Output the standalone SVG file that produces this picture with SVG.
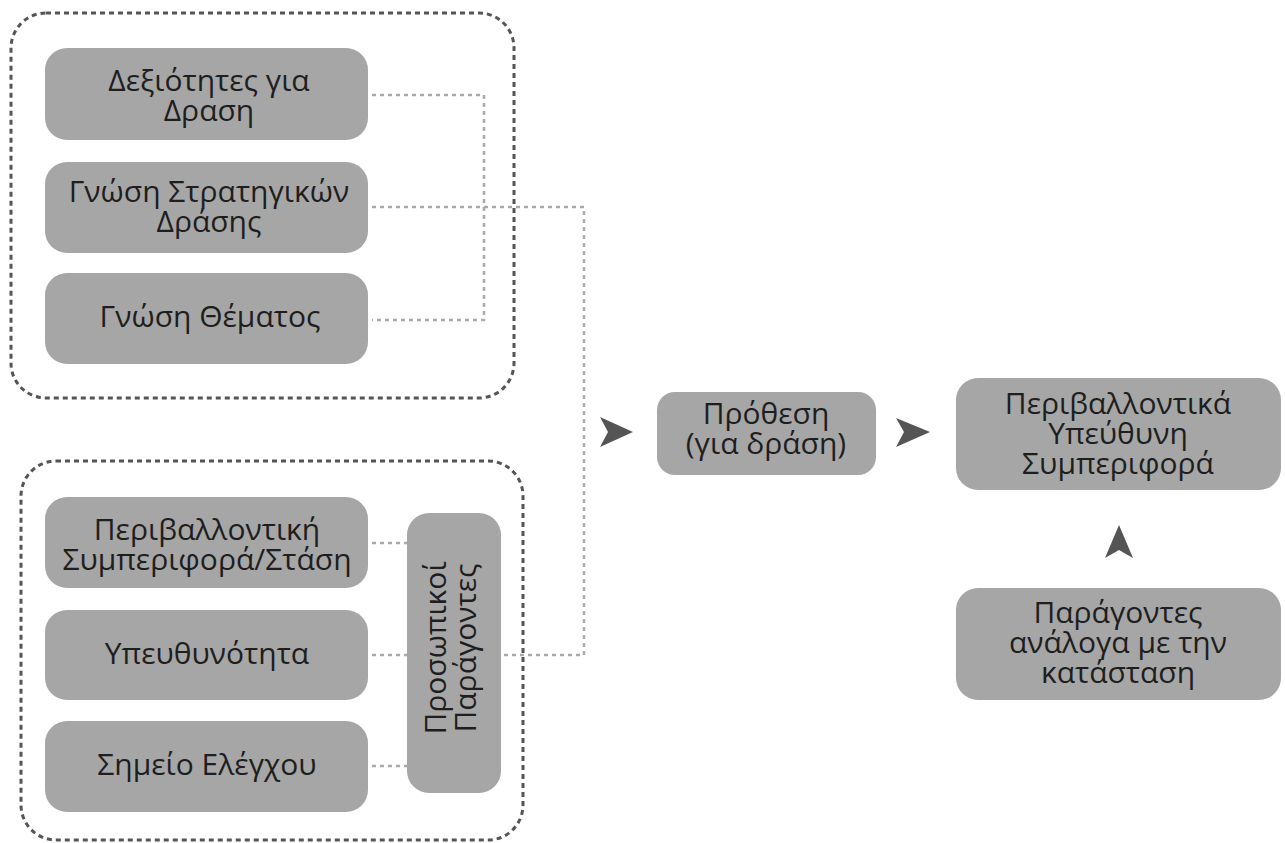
<svg xmlns="http://www.w3.org/2000/svg" width="1285" height="843" viewBox="0 0 1285 843">
<style>
.group{fill:none;stroke:#555;stroke-width:3;stroke-dasharray:5 4}
.box{fill:#a6a6a6}
.t{font-family:"Open Sans","Noto Sans","DejaVu Sans",sans-serif;font-size:30px;fill:#1e1e1e;text-anchor:middle}
.link{fill:none;stroke:#aaa;stroke-width:2.5;stroke-dasharray:4 4}
.arrow{fill:#555}
</style>
<rect width="1285" height="843" fill="#fff"/>
<g id="group-top"><rect class="group" x="11" y="13" width="503" height="385" rx="35"/></g>
<g id="group-bottom"><rect class="group" x="21" y="461" width="502" height="379" rx="35"/></g>
<g id="connectors">
<path class="link" d="M372 95H484V320H372"/>
<path class="link" d="M372 207H584V655H501"/>
<path class="link" d="M372 543H407"/>
<path class="link" d="M372 655H407"/>
<path class="link" d="M372 766H407"/>
<polygon class="arrow" points="600,417 633,432 600,447 608,432"/>
<polygon class="arrow" points="896,418 930,432 896,447 904,432"/>
<polygon class="arrow" points="1119,525 1133,558 1119,550 1105,558"/>
</g>
<g id="n-skills"><rect class="box" x="45" y="48" width="323" height="92" rx="22"/><text class="t" x="209" y="91">Δεξιότητες για</text><text class="t" x="209" y="121">Δραση</text></g>
<g id="n-strategy"><rect class="box" x="45" y="162" width="323" height="91" rx="22"/><text class="t" x="209" y="202">Γνώση Στρατηγικών</text><text class="t" x="209" y="232">Δράσης</text></g>
<g id="n-topic"><rect class="box" x="45" y="273" width="323" height="91" rx="22"/><text class="t" x="210" y="327">Γνώση Θέματος</text></g>
<g id="n-attitude"><rect class="box" x="45" y="497" width="323" height="91" rx="22"/><text class="t" x="207" y="540">Περιβαλλοντική</text><text class="t" x="207" y="570">Συμπεριφορά/Στάση</text></g>
<g id="n-responsibility"><rect class="box" x="45" y="610" width="323" height="90" rx="22"/><text class="t" x="207" y="664">Υπευθυνότητα</text></g>
<g id="n-locus"><rect class="box" x="45" y="721" width="323" height="91" rx="22"/><text class="t" x="207" y="775">Σημείο Ελέγχου</text></g>
<g id="n-personal"><rect class="box" x="407" y="513" width="94" height="280" rx="22"/><g transform="translate(446,648) rotate(-90)"><text class="t" x="0" y="0">Προσωπικοί</text><text class="t" x="0" y="30">Παράγοντες</text></g></g>
<g id="n-intention"><rect class="box" x="657" y="392" width="219" height="83" rx="18"/><text class="t" x="766" y="424">Πρόθεση</text><text class="t" x="766" y="454">(για δράση)</text></g>
<g id="n-behavior"><rect class="box" x="956" y="378" width="325" height="112" rx="22"/><text class="t" x="1118" y="414">Περιβαλλοντικά</text><text class="t" x="1118" y="444">Υπεύθυνη</text><text class="t" x="1118" y="474">Συμπεριφορά</text></g>
<g id="n-situation"><rect class="box" x="956" y="588" width="325" height="112" rx="22"/><text class="t" x="1118" y="623">Παράγοντες</text><text class="t" x="1118" y="653">ανάλογα με την</text><text class="t" x="1118" y="683">κατάσταση</text></g>
</svg>
